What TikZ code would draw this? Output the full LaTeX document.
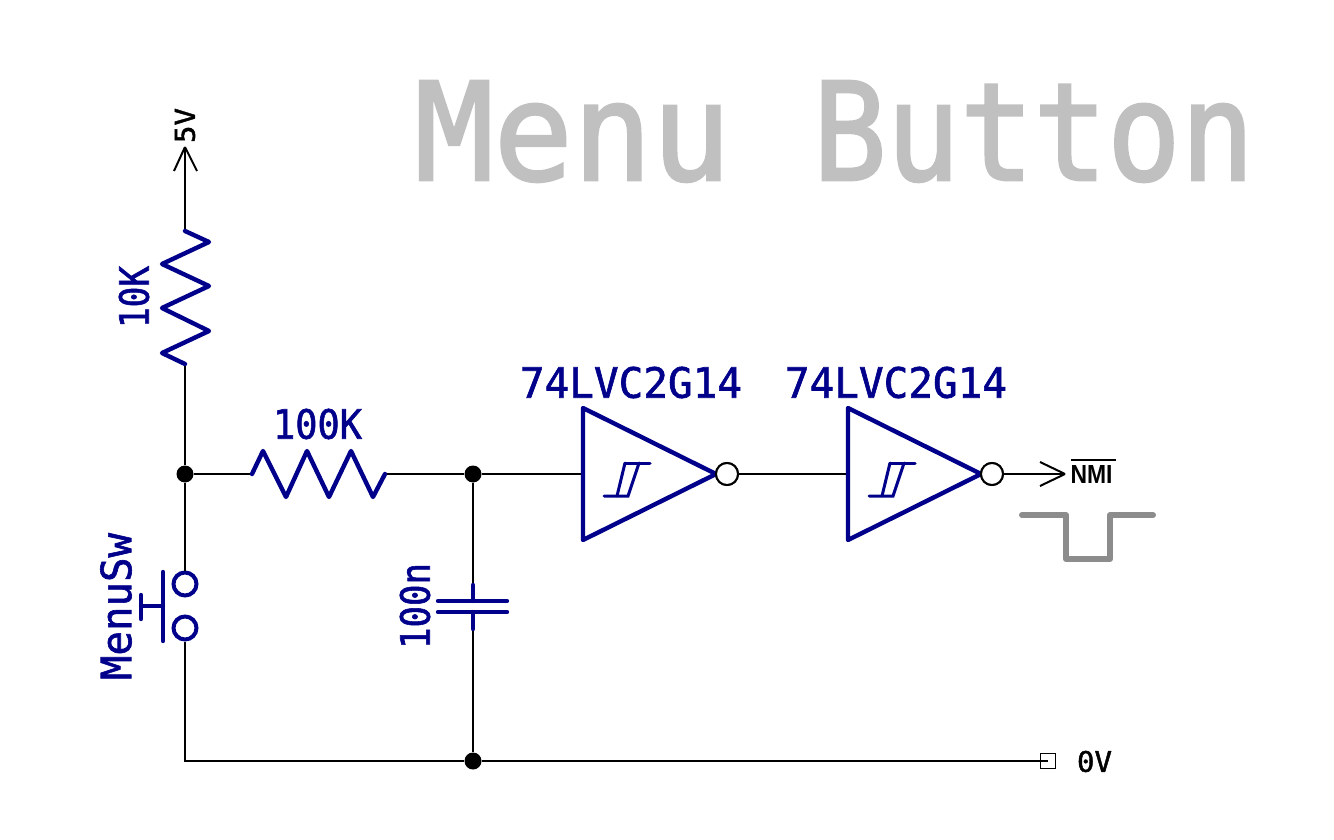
\documentclass[tikz,border=0pt]{standalone}
\usepackage{graphicx}
\usepackage{fontspec}
\setmainfont{DejaVu Sans Mono}
\newfontfamily\nmifont{Liberation Sans}[BoldFont={Liberation Sans Bold}]
\newfontfamily\titlefont{DejaVu Sans Mono}[FakeBold=2]
\newfontfamily\labelfont{DejaVu Sans Mono}[FakeBold=1.5]
\definecolor{partblue}{RGB}{0,0,139}
\definecolor{titlegray}{RGB}{192,192,192}
\definecolor{pulsegray}{RGB}{140,140,140}
\newcommand{\fittext}[3]{\resizebox{#1pt}{#2pt}{#3}}
\tikzset{
  wire/.style={draw=black,line width=2pt},
  part/.style={draw=partblue,line width=4.4pt,line cap=round,line join=round},
  thinpart/.style={draw=partblue,line width=3pt,line cap=round,line join=miter},
  label/.style={inner sep=0pt,outer sep=0pt,text=partblue,font=\labelfont},
  blacklabel/.style={inner sep=0pt,outer sep=0pt,text=black,font=\labelfont},
  junction/.style={circle,fill=black,draw=none,minimum size=17pt,inner sep=0pt},
  bubble/.style={circle,draw=black,line width=2pt,fill=white,minimum size=22pt,inner sep=0pt},
  contact/.style={circle,draw=partblue,line width=4pt,fill=white,minimum size=23pt,inner sep=0pt},
  terminal/.style={rectangle,draw=black,line width=1pt,minimum size=15pt,inner sep=0pt},
  pics/schmitt/.style={code={
    \draw[part] (0,-66) -- (0,66) -- (133,0) -- cycle;
    \draw[thinpart] (21,22) -- (45,22) -- (56,-11);
    \draw[thinpart] (42,-11) -- (67,-11);
    \draw[thinpart] (42,-11) -- (34,22);
  }}
}
\begin{document}
\begin{tikzpicture}[x=1pt,y=-1pt]
\useasboundingbox (0,0) rectangle (1334,840);
\node[inner sep=0pt,text=titlegray,font=\titlefont] (title) at (834.5,131.5) {\fittext{316}{99}{Menu}\hspace{82pt}\fittext{441}{99}{Button}};

% named points
\coordinate (vcc) at (185,147);
\coordinate (r1top) at (185,231);
\coordinate (r1bot) at (185,364);
\node[junction] (j1) at (185,474) {};
\coordinate (r2l) at (252,474);
\coordinate (r2r) at (385,474);
\node[junction] (j2) at (473,474) {};
\node[junction] (j3) at (473,761) {};
\node[contact] (s1) at (185,584) {};
\node[contact] (s2) at (185,628) {};
\coordinate (corner) at (185,761);
\coordinate (captop) at (473,585);
\coordinate (capbot) at (473,629);
\node[terminal] (gnd) at (1047.5,761) {};
\coordinate (g1in) at (583,474);
\coordinate (g2in) at (848,474);
\node[bubble] (b1) at (727,474) {};
\node[bubble] (b2) at (992,474) {};
\coordinate (nmi) at (1065,474);

% wires
\draw[wire] (r1top) -- (vcc);
\draw[wire] (vcc) -- +(-11,24);
\draw[wire] (vcc) -- +(12,24);
\draw[wire] (r1bot) -- (j1);
\draw[wire] (j1) -- (s1.north);
\draw[wire] (j1) -- (r2l);
\draw[wire] (r2r) -- (j2);
\draw[wire] (j2) -- (captop);
\draw[wire] (capbot) -- (j3);
\draw[wire] (j2) -- (g1in);
\draw[wire] (s2.south) -- (corner) -- (j3);
\draw[wire] (j3) -- (gnd.center);
\draw[wire] (b1) -- (g2in);
\draw[wire] (b2) -- (nmi);
\draw[wire] (nmi) -- +(-25,-12);
\draw[wire] (nmi) -- +(-25,12);

% resistors
\draw[part] (r1top) -- (209,242) -- (162,264) -- (209,286) -- (162,308) -- (209,331) -- (162,353) -- (r1bot);
\draw[part] (r2l) -- (263,451) -- (286,497) -- (307,451) -- (329,497) -- (351,451) -- (373,497) -- (r2r);

% switch
\draw[part] (163,572) -- (163,641);
\draw[part] (141,606) -- (163,606);
\draw[part] (141,595) -- (141,619);

% capacitor
\draw[part] (438,601) -- (507,601);
\draw[part] (438,612) -- (507,612);
\draw[part] (captop) -- (473,601);
\draw[part] (473,612) -- (capbot);

% gates
\pic at (583,474) {schmitt};
\pic at (848,474) {schmitt};
\node[bubble] at (b1) {};
\node[bubble] at (b2) {};

% pulse
\draw[draw=pulsegray,line width=6pt,line cap=round,line join=round]
  (1022,515) -- (1066,515) -- (1066,559) -- (1110,559) -- (1110,515) -- (1153,515);

% labels
\node[blacklabel,rotate=90] (l5v) at (185,125.5) {\fittext{35}{20}{5V}};
\node[label,rotate=90] (l10k) at (134,297) {\fittext{62}{30}{10K}};
\node[label] (l100k) at (317.5,424) {\fittext{89}{30}{100K}};
\node[label,rotate=90] (lsw) at (116,606.5) {\fittext{147}{31}{MenuSw}};
\node[label,rotate=90] (l100n) at (415,606) {\fittext{86}{30}{100n}};
\node[label] (lg1) at (631,382.5) {\fittext{222}{31}{74LVC2G14}};
\node[label] (lg2) at (896,382.5) {\fittext{222}{31}{74LVC2G14}};
\node[blacklabel] (lnmi) at (1091.5,474.5) {\fittext{42}{18}{\nmifont\bfseries NMI}};
\draw[draw=black,line width=2pt] (lnmi.north west) ++(0,-6) -- ++(45,0);
\node[blacklabel] (l0v) at (1094.5,761.5) {\fittext{35}{21}{0V}};
\end{tikzpicture}
\end{document}
